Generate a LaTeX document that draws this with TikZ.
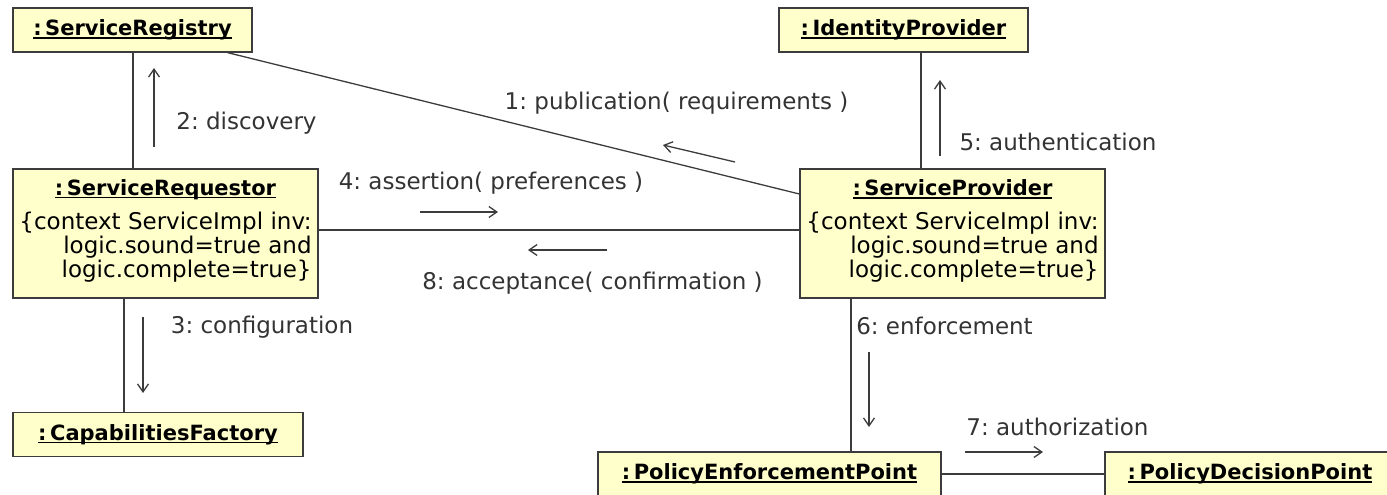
\documentclass[tikz,border=0pt]{standalone}
\usepackage{fontspec}
\setmainfont{DejaVu Sans}
\usetikzlibrary{arrows.meta}
\usetikzlibrary{positioning}
\definecolor{objfill}{HTML}{FFFFCC}
\definecolor{objline}{HTML}{3C3C3C}
\definecolor{msgtext}{HTML}{333333}
\tikzset{every picture/.style={line width=1.3pt},
  obj/.style={draw=objline, fill=objfill, inner sep=0pt, minimum height=44pt, font=\fontsize{21}{24}\selectfont},
  link/.style={draw=objline},
  msg/.style={-{Straight Barb[length=8pt,width=11pt]}, draw=objline},
  msglabel/.style={text=msgtext, inner sep=0pt, font=\fontsize{23}{23}\selectfont}}
\newcommand{\objname}[1]{\textbf{\setbox0\hbox{:\,#1}\rlap{\rule[-3pt]{\wd0}{1.5pt}}\box0}}
\newcommand{\implinv}{{\fontsize{23}{21.5}\selectfont\begin{tabular}{@{}r@{}}\{context ServiceImpl inv:\\ logic.sound=true and\\ logic.complete=true\}\rule[-10pt]{0pt}{0pt}\end{tabular}}}

\begin{document}
\begin{tikzpicture}[x=1pt, y=-1pt]
    \useasboundingbox (0,0) rectangle (1387,495);

    % objects
    \node (reg) [obj, minimum width=239pt] at (132.5,30) {\objname{ServiceRegistry}};
    \node (idp) [obj, minimum width=249pt] at (903.5,30) {\objname{IdentityProvider}};
    \node (req) [obj, minimum width=305pt, minimum height=129pt, align=center] at (165.5,233.5)
        {\objname{ServiceRequestor}\\[12pt] \implinv};
    \node (sp) [obj, minimum width=305pt, minimum height=129pt, align=center] at (952.5,233.5)
        {\objname{ServiceProvider}\\[12pt] \implinv};
    \node (cap) [obj, minimum width=290pt] at (158,434.5) {\objname{CapabilitiesFactory}};
    \node (pep) [obj, minimum width=343pt] at (769.5,474) {\objname{PolicyEnforcementPoint}};
    \node (pdp) [obj, minimum width=290pt] at (1250,474) {\objname{PolicyDecisionPoint}};

    % links
    \draw[link] ([xshift=-25pt]reg.south east) -- ([yshift=39.5pt]sp.west);
    \draw[link] ([xshift=0.5pt]reg.south) -- ([xshift=0.5pt]reg.south |- req.north);
    \draw[link] ([xshift=17.5pt]idp.south) -- ([xshift=17.5pt]idp.south |- sp.north);
    \draw[link] ([yshift=3.5pt]req.east) -- ([yshift=3.5pt]req.east -| sp.west);
    \draw[link] ([xshift=-34pt]cap.north) -- ([xshift=-34pt]cap.north |- req.south);
    \draw[link] ([xshift=81.5pt]pep.north) -- ([xshift=81.5pt]pep.north |- sp.south);
    \draw[link] (pep.east) -- (pep.east -| pdp.west);

    % messages
    \node (l1) [msglabel] at (676.5,103) {1:\ publication( requirements )};
    \node (l2) [msglabel] at (246.5,123) {2:\ discovery};
    \node (l3) [msglabel] at (262,327) {3:\ configuration};
    \node (l4) [msglabel] at (491,183) {4:\ assertion( preferences )};
    \node (l5) [msglabel] at (1058,142) {5:\ authentication};
    \node (l6) [msglabel] at (944.5,326) {6:\ enforcement};
    \node (l7) [msglabel] at (1057.5,427) {7:\ authorization};
    \node (l8) [msglabel] at (592.5,283) {8:\ acceptance( confirmation )};

    \coordinate (m1a) at (735,162);  \coordinate (m1b) at (663,145);
    \coordinate (m2a) at (154,147);  \coordinate (m2b) at (154,68);
    \coordinate (m3a) at (143,317);  \coordinate (m3b) at (143,393);
    \coordinate (m4a) at (420,212);  \coordinate (m4b) at (498,212);
    \coordinate (m5a) at (940,156);  \coordinate (m5b) at (940,80);
    \coordinate (m6a) at (869,352);  \coordinate (m6b) at (869,427);
    \coordinate (m7a) at (965,452);  \coordinate (m7b) at (1043,452);
    \coordinate (m8a) at (607,250);  \coordinate (m8b) at (528,250);

    \foreach \m in {1,...,8}
        \draw[msg] (m\m a) -- (m\m b);
\end{tikzpicture}
\end{document}
